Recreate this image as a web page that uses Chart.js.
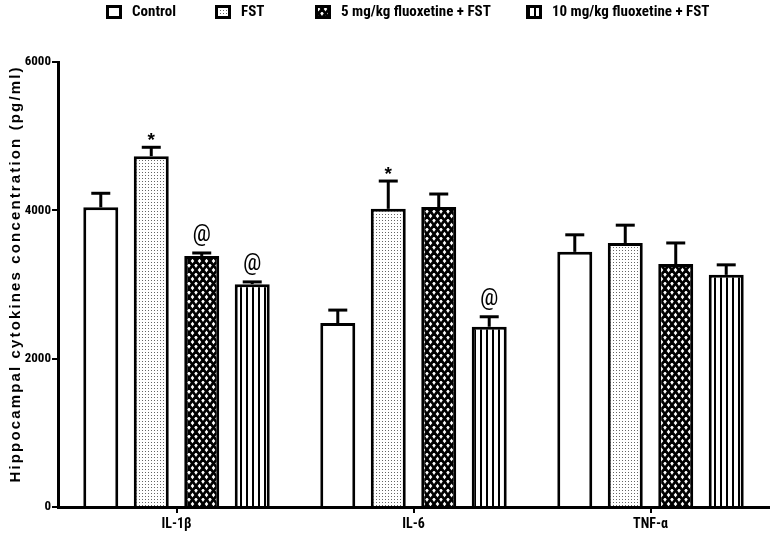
<!DOCTYPE html>
<html>
<head>
<meta charset="utf-8">
<script src="https://cdn.jsdelivr.net/npm/chart.js@4"></script>
<style>
html,body{margin:0;padding:0;background:#fff;}
#wrap{width:771px;height:537px;}
</style>
</head>
<body>
<div id="wrap"><canvas id="c" width="771" height="537"></canvas></div>
<script>
// ---- data ----
const categories = ['IL-1β', 'IL-6', 'TNF-α'];
const seriesNames = ['Control', 'FST', '5 mg/kg fluoxetine + FST', '10 mg/kg fluoxetine + FST'];
const controlValues = [4040, 2480, 3440];
const controlErrors = [190, 175, 230];
const fstValues = [4730, 4020, 3560];
const fstErrors = [120, 375, 240];
const fluox5Values = [3385, 4045, 3275];
const fluox5Errors = [40, 175, 285];
const fluox10Values = [3005, 2430, 3130];
const fluox10Errors = [30, 135, 135];
const controlMarks = ['', '', ''];
const fstMarks = ['*', '*', ''];
const fluox5Marks = ['@', '', ''];
const fluox10Marks = ['@', '@', ''];
const yTicks = [0, 2000, 4000, 6000];
const yTitle = 'Hippocampal cytokines concentration (pg/ml)';

const NARROW = "'Roboto Condensed','Open Sans Condensed','Liberation Sans',Arial,sans-serif";
const SANS = "'Liberation Sans',Arial,sans-serif";

// ---- patterns ----
function pat(w, h, draw) {
  const c = document.createElement('canvas');
  c.width = w; c.height = h;
  const g = c.getContext('2d');
  draw(g, w, h);
  return document.getElementById('c').getContext('2d').createPattern(c, 'repeat');
}
const whiteFill = '#ffffff';
const dotFill = pat(3, 3, (g, w, h) => {
  g.fillStyle = '#fff'; g.fillRect(0, 0, w, h);
  g.fillStyle = '#666'; g.fillRect(1, 1, 1, 1);
});
const crossFill = pat(7, 9, (g, w, h) => {
  g.fillStyle = '#fff'; g.fillRect(0, 0, w, h);
  g.strokeStyle = '#000'; g.lineWidth = 2.7;
  for (let k = -1; k <= 1; k++) {
    g.beginPath(); g.moveTo(k * w, 0); g.lineTo(k * w + w, h); g.stroke();
    g.beginPath(); g.moveTo(k * w + w, 0); g.lineTo(k * w, h); g.stroke();
  }
});
const stripeFill = pat(6, 2, (g, w, h) => {
  g.fillStyle = '#fff'; g.fillRect(0, 0, w, h);
  g.fillStyle = '#000'; g.fillRect(0, 0, 2, h);
});
const fills = [whiteFill, dotFill, crossFill, stripeFill];

const valueSets = [controlValues, fstValues, fluox5Values, fluox10Values];
const errorSets = [controlErrors, fstErrors, fluox5Errors, fluox10Errors];
const markSets = [controlMarks, fstMarks, fluox5Marks, fluox10Marks];

const datasets = seriesNames.map((name, i) => ({
  label: name,
  data: valueSets[i],
  errors: errorSets[i],
  marks: markSets[i],
  backgroundColor: fills[i],
  borderColor: '#000',
  borderWidth: 3,
  categoryPercentage: 0.852,
  barPercentage: 0.693
}));

// ---- plugins ----
const errorBars = {
  id: 'errorBars',
  afterDatasetsDraw(chart) {
    const ctx = chart.ctx;
    const y = chart.scales.y;
    ctx.save();
    ctx.strokeStyle = '#000';
    ctx.fillStyle = '#000';
    chart.data.datasets.forEach((ds, di) => {
      const meta = chart.getDatasetMeta(di);
      meta.data.forEach((el, i) => {
        const v = ds.data[i], e = ds.errors[i];
        const yTop = y.getPixelForValue(v);
        const yE = y.getPixelForValue(v + e);
        ctx.lineWidth = 3;
        ctx.beginPath();
        ctx.moveTo(el.x, yTop);
        ctx.lineTo(el.x, yE);
        ctx.stroke();
        ctx.beginPath();
        ctx.moveTo(el.x - 9.5, yE);
        ctx.lineTo(el.x + 9.5, yE);
        ctx.stroke();
        const m = ds.marks[i];
        if (m === '*') {
          ctx.font = 'bold 19px ' + SANS;
          ctx.textAlign = 'center';
          ctx.textBaseline = 'alphabetic';
          ctx.fillText(m, el.x, yE - 1);
        } else if (m === '@') {
          ctx.font = '24px ' + NARROW;
          ctx.textAlign = 'center';
          ctx.textBaseline = 'alphabetic';
          ctx.fillText(m, el.x, yE - 12);
        }
      });
    });
    ctx.restore();
  }
};

const legendBoxX = [106, 215, 315, 526];
const customLegend = {
  id: 'customLegend',
  afterDraw(chart) {
    const ctx = chart.ctx;
    ctx.save();
    chart.data.datasets.forEach((ds, i) => {
      const x = legendBoxX[i];
      ctx.fillStyle = ds.backgroundColor;
      ctx.fillRect(x, 5, 16, 14);
      ctx.strokeStyle = '#000';
      ctx.lineWidth = 3;
      ctx.strokeRect(x + 1.5, 6.5, 13, 11);
      ctx.fillStyle = '#000';
      ctx.font = 'bold 15px ' + NARROW;
      ctx.textAlign = 'left';
      ctx.textBaseline = 'middle';
      ctx.fillText(ds.label, x + 26, 12.5);
    });
    ctx.restore();
  }
};

const yTitlePlugin = {
  id: 'yTitlePlugin',
  afterDraw(chart) {
    const ctx = chart.ctx;
    ctx.save();
    ctx.font = 'bold 15px ' + SANS;
    const w = ctx.measureText(yTitle).width;
    const target = 415;
    const sp = (target - w) / (yTitle.length - 1);
    ctx.letterSpacing = sp.toFixed(2) + 'px';
    ctx.translate(16, 275);
    ctx.rotate(-Math.PI / 2);
    ctx.fillStyle = '#000';
    ctx.textAlign = 'center';
    ctx.textBaseline = 'middle';
    ctx.fillText(yTitle, sp / 2, 0);
    ctx.restore();
  }
};

new Chart(document.getElementById('c'), {
  type: 'bar',
  data: { labels: categories, datasets },
  options: {
    responsive: false,
    animation: false,
    layout: { padding: { top: 62, right: 2, left: 0, bottom: 0 } },
    plugins: { legend: { display: false }, tooltip: { enabled: false } },
    scales: {
      x: {
        grid: { display: true, drawOnChartArea: false, offset: false, color: '#000', lineWidth: 2, tickLength: 6 },
        border: { display: true, color: '#000', width: 3 },
        ticks: { color: '#000', font: { family: NARROW, weight: 'bold', size: 14 }, padding: 3 },
        afterFit(s) { s.height = 30; }
      },
      y: {
        min: 0, max: 6000,
        afterBuildTicks(s) { s.ticks = yTicks.map(v => ({ value: v })); },
        grid: { display: true, drawOnChartArea: false, color: '#000', lineWidth: 2, tickLength: 6 },
        border: { display: true, color: '#000', width: 3 },
        ticks: { color: '#000', font: { family: NARROW, weight: 'bold', size: 13 }, padding: 1,
                 callback: (v) => String(v) },
        afterFit(s) { s.width = 58; }
      }
    }
  },
  plugins: [errorBars, customLegend, yTitlePlugin]
});
</script>
</body>
</html>
